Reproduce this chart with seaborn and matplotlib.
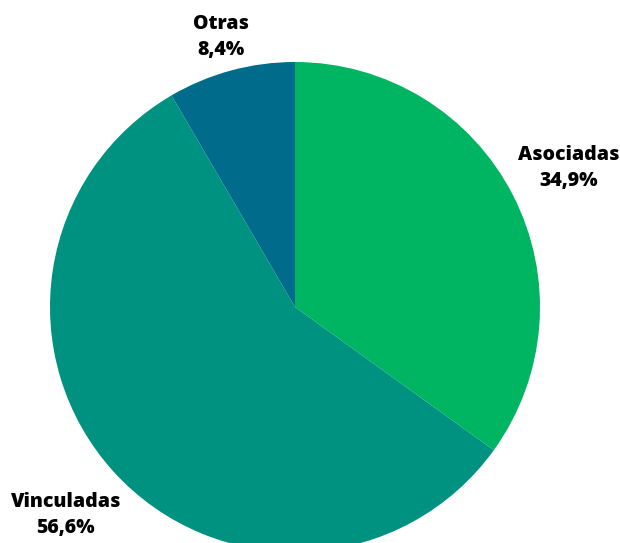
import matplotlib
matplotlib.use("Agg")
import matplotlib.pyplot as plt
import seaborn as sns

categorias = ["Asociadas", "Vinculadas", "Otras"]
porcentajes = [34.9, 56.6, 8.4]
colores = ["#00B562", "#009281", "#006B8B"]

sns.set_theme(style="white")
plt.rcParams["font.family"] = ["Open Sans", "DejaVu Sans"]

fig = plt.figure(figsize=(6.2, 5.43), dpi=100)
ax = fig.add_axes([0, 0, 1, 1])
ax.pie(
    porcentajes,
    colors=colores,
    startangle=90,
    counterclock=False,
    radius=1,
    wedgeprops=dict(linewidth=0),
)

# posiciones de las etiquetas (centro del bloque de texto)
pos_etiquetas = {
    "Asociadas": (1.118, 0.568),
    "Vinculadas": (-0.935, -0.849),
    "Otras": (-0.302, 1.102),
}
for cat, pct in zip(categorias, porcentajes):
    x, y = pos_etiquetas[cat]
    ax.text(
        x, y, f"{cat}\n{pct:.1f}%".replace(".", ","),
        ha="center", va="center", fontsize=14, fontweight="heavy",
        color="black", linespacing=1.42,
    )

ax.set_xlim(-295 / 245, 325 / 245)
ax.set_ylim(-236 / 245, 307 / 245)
ax.set_aspect("auto")
ax.axis("off")

fig.savefig("out.png", dpi=100)
